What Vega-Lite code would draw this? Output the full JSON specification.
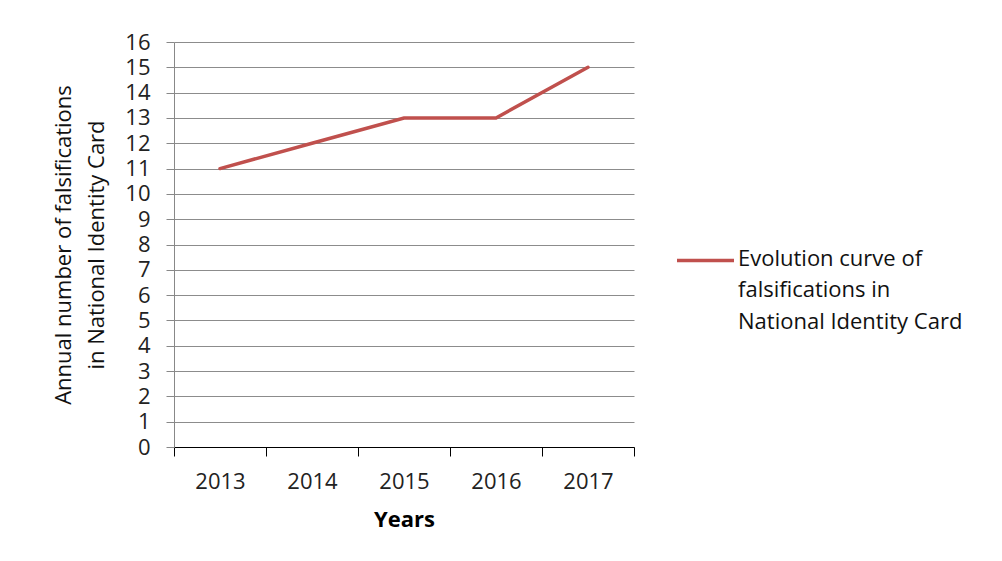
{
  "$schema": "https://vega.github.io/schema/vega-lite/v6.json",
  "width": 460,
  "height": 405,
  "autosize": "none",
  "padding": {"left": 174, "top": 42, "right": 368, "bottom": 114},
  "background": "white",
  "data": {"values": [
    {"year": 2013, "count": 11, "series": "Evolution curve of falsifications in National Identity Card"},
    {"year": 2014, "count": 12, "series": "Evolution curve of falsifications in National Identity Card"},
    {"year": 2015, "count": 13, "series": "Evolution curve of falsifications in National Identity Card"},
    {"year": 2016, "count": 13, "series": "Evolution curve of falsifications in National Identity Card"},
    {"year": 2017, "count": 15, "series": "Evolution curve of falsifications in National Identity Card"}
  ]},
  "mark": {"type": "line", "strokeWidth": 3.5, "strokeCap": "round"},
  "encoding": {
    "x": {
      "field": "year", "type": "quantitative",
      "scale": {"domain": [2012.5, 2017.5], "nice": false, "zero": false},
      "axis": {
        "values": [2012.5, 2013.5, 2014.5, 2015.5, 2016.5, 2017.5],
        "labelExpr": "datum.value < 2017 ? format(datum.value + 0.5, 'd') : ''",
        "labelOffset": 46,
        "labelFlush": false,
        "labelOverlap": false,
        "grid": false,
        "title": "Years",
        "titleFontWeight": "bold",
        "titleFontSize": 22,
        "titlePadding": 17,
        "labelFontSize": 22,
        "labelPadding": 15,
        "tickSize": 9,
        "tickColor": "#000000",
        "domainColor": "#000000",
        "labelColor": "#222222",
        "titleColor": "#000000",
        "labelFont": "Open Sans",
        "titleFont": "Open Sans"
      }
    },
    "y": {
      "field": "count", "type": "quantitative",
      "scale": {"domain": [0, 16], "nice": false},
      "axis": {
        "values": [0,1,2,3,4,5,6,7,8,9,10,11,12,13,14,15,16],
        "title": ["Annual number of falsifications", "in National Identity Card"],
        "titleFontWeight": "normal",
        "titleFontSize": 22,
        "titleFont": "Open Sans",
        "titleColor": "#111111",
        "titlePadding": 16,
        "titleLineHeight": 33,
        "labelFontSize": 22,
        "labelFont": "Open Sans",
        "labelColor": "#222222",
        "labelPadding": 16,
        "labelOverlap": false,
        "tickSize": 8,
        "tickColor": "#888888",
        "domainColor": "#888888",
        "gridColor": "#8c8c8c",
        "gridWidth": 1
      }
    },
    "color": {
      "field": "series", "type": "nominal",
      "scale": {"range": ["#C0504D"]},
      "legend": {
        "title": null,
        "orient": "none",
        "legendX": 501,
        "legendY": 188,
        "symbolType": "stroke",
        "symbolSize": 3249,
        "symbolStrokeWidth": 3.5,
        "labelFont": "Open Sans",
        "labelFontSize": 22,
        "labelColor": "#111111",
        "labelLimit": 400,
        "labelOffset": 2,
        "labelExpr": "['Evolution curve of', 'falsifications in', 'National Identity Card']",
        "labelBaseline": "top",
        "encode": {"labels": {"update": {"dy": {"value": -12}, "lineHeight": {"value": 31.5}}}}
      }
    }
  },
  "config": {
    "view": {"stroke": null}
  }
}
